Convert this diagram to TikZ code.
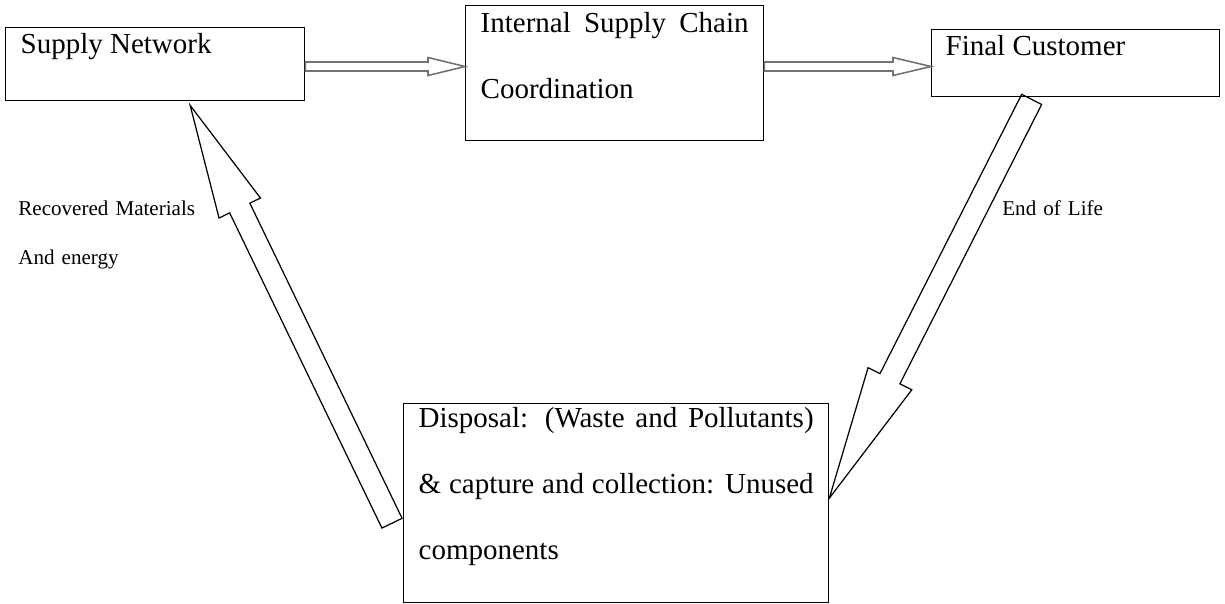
\documentclass[tikz,border=0pt]{standalone}
\usepackage{fontspec}
\setmainfont{Liberation Serif}
\usetikzlibrary{calc,positioning}

% block arrow: [style]{from}{to}{half shaft}{half head}{head length}
\newcommand{\blockarrow}[6][]{%
  \coordinate (neck) at ($(#3)!#6!(#2)$);
  \draw[#1] ($(#2)!#4!90:(#3)$) -- ($(neck)!#4!90:(#3)$) -- ($(neck)!#5!90:(#3)$) -- (#3)
    -- ($(neck)!#5!-90:(#3)$) -- ($(neck)!#4!-90:(#3)$) -- ($(#2)!#4!-90:(#3)$) -- cycle;}

\begin{document}
\begin{tikzpicture}[x=0.02cm,y=-0.02cm,
    box/.style={draw,line width=0.8pt,anchor=north west,inner xsep=0.3cm,inner ysep=0pt,
      font=\fontsize{16.5}{37.6}\selectfont,align=justify},
    lbl/.style={anchor=base west,inner sep=0pt,text width=4cm,align=left,
      font=\fontsize{12}{28.4}\selectfont},
    thinarrow/.style={draw=black!55,line width=0.9pt},
    fatarrow/.style={draw,line width=0.7pt}]
  \useasboundingbox (0,0) rectangle (1225,603);

  % the four boxes
  \node[box,text width=5.38cm,text height=0.52cm,text depth=0.94cm] (supply) at (5,27) {Supply Network};
  \node[box,text width=5.36cm,text height=0.54cm,text depth=2.16cm] (internal) at (465,5)
    {Internal Supply Chain Coordination};
  \node[box,text width=5.2cm,text height=0.52cm,text depth=0.82cm,inner xsep=0.28cm] (customer) at (931,29)
    {Final Customer};
  \node[box,text width=7.9cm,text height=0.48cm,text depth=3.5cm] (disposal) at (403,403)
    {Disposal: (Waste and Pollutants) \& capture and collection: Unused components};

  % labels
  \node[lbl] (recovered) at (18,215) {Recovered Materials\\And energy};
  \node[lbl] (endlife) at (1002,215) {End of Life};

  % arrows
  \coordinate (level) at (0,66.5);
  \coordinate (s1) at (supply.east |- level);
  \coordinate (s2) at (internal.west |- level);
  \coordinate (s3) at (internal.east |- level);
  \coordinate (s4) at (customer.west |- level);
  \blockarrow[thinarrow]{s1}{s2}{0.09cm}{0.18cm}{0.74cm}
  \blockarrow[thinarrow]{s3}{s4}{0.09cm}{0.18cm}{0.76cm}

  \coordinate (eoltail) at ($(customer.south)+(-44,2)$);
  \coordinate (eoltip) at ($(disposal.east)+(0,-5)$);
  \blockarrow[fatarrow]{eoltail}{eoltip}{0.224cm}{0.49cm}{2.68cm}

  \coordinate (rectail) at ($(disposal.west)+(-11,20)$);
  \coordinate (rectip) at ($(supply.south)+(35,4)$);
  \blockarrow[fatarrow]{rectail}{rectip}{0.224cm}{0.46cm}{2.28cm}
\end{tikzpicture}
\end{document}
